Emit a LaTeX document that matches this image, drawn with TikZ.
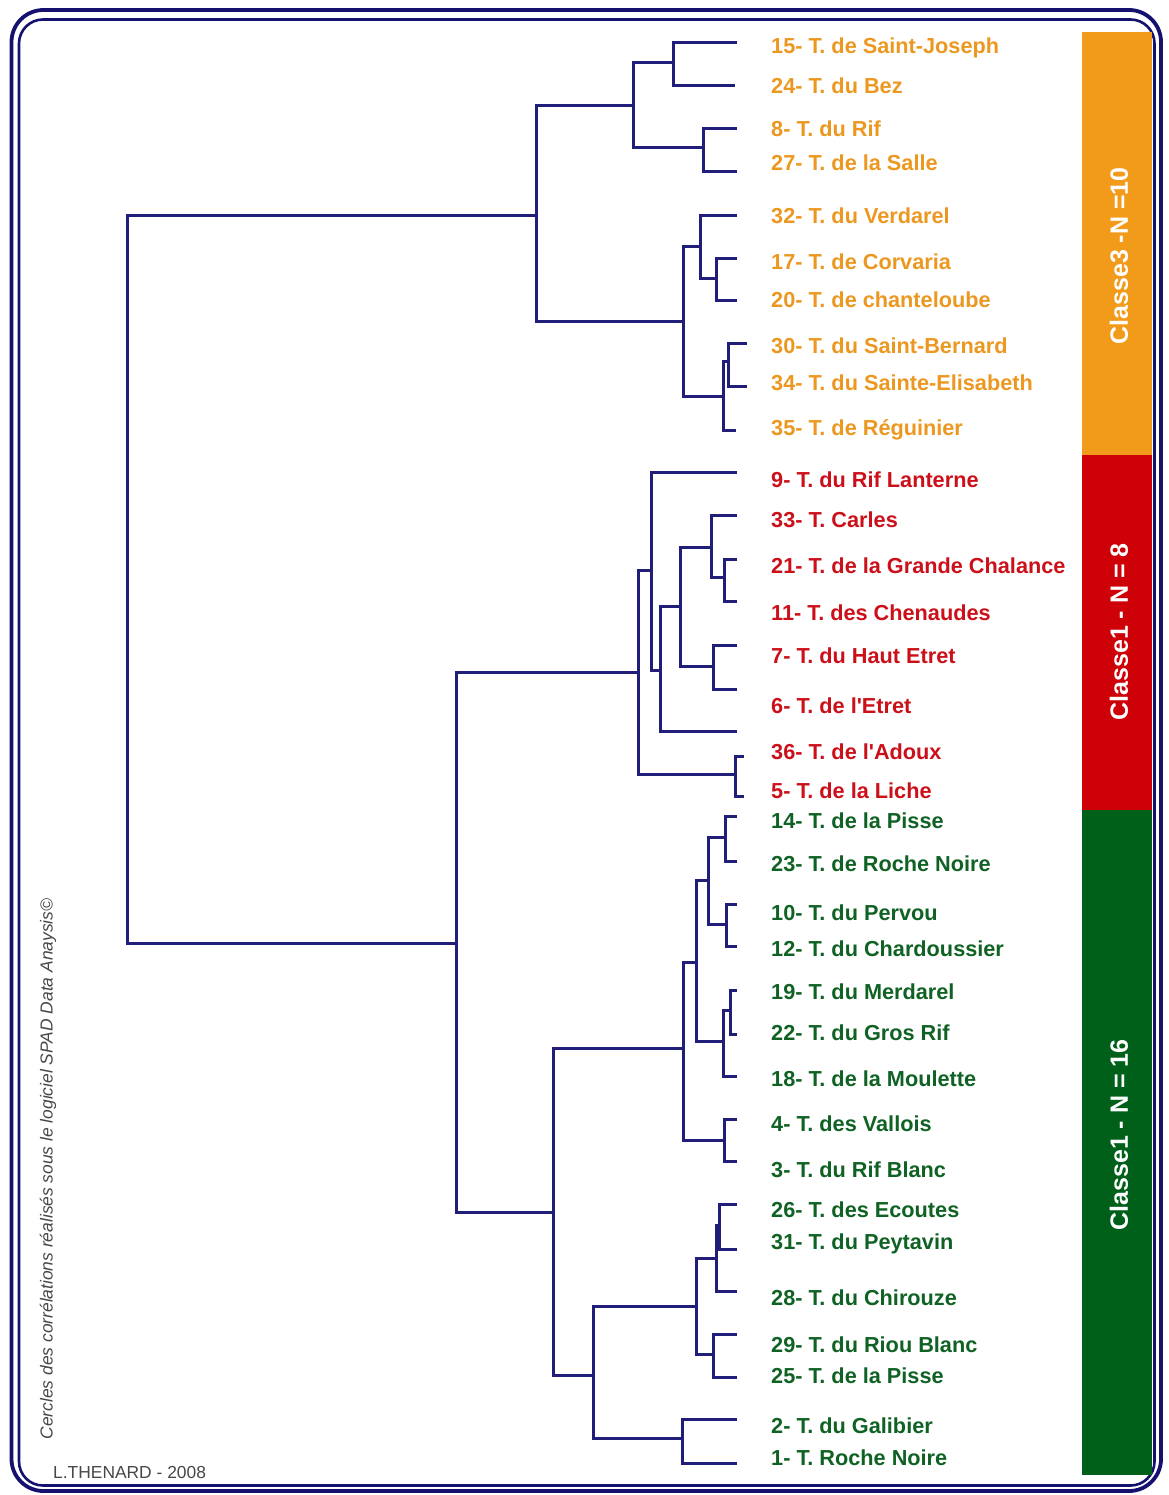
\documentclass[tikz,border=0pt]{standalone}
\usepackage{fontspec}
\setmainfont{Liberation Sans}
\usepackage{xcolor}
\usepackage{tikz}
\definecolor{treeblue}{RGB}{32,30,120}
\definecolor{framenavy}{RGB}{20,18,110}
\definecolor{cl3}{RGB}{236,152,32}
\definecolor{cl3bar}{RGB}{242,155,26}
\definecolor{cl1}{RGB}{204,16,26}
\definecolor{cl1bar}{RGB}{206,0,8}
\definecolor{cl2}{RGB}{16,98,36}
\definecolor{cl2bar}{RGB}{0,96,26}
\newcommand{\spad}{SPAD Data Anaysis\textcopyright}
\newcommand{\apos}{\textquotesingle}
\tikzset{
  branch/.style={draw=treeblue, line width=2.6pt},
  leaflabel/.style={anchor=base west, inner sep=0pt, font=\fontsize{21.7}{26}\selectfont\bfseries},
  classbar/.style={draw=none, minimum width=70pt, inner sep=0pt},
  classtext/.style={text=white, inner sep=0pt, rotate=90, font=\fontsize{25}{30}\selectfont\bfseries},
  credit/.style={inner sep=0pt, text=black!72, font=\fontsize{17.4}{20}\selectfont},
  outerframe/.style={draw=framenavy, line width=3.8pt, rounded corners=32pt},
  innerframe/.style={draw=framenavy, line width=2.6pt, rounded corners=24pt}
}

\begin{document}
\begin{tikzpicture}[x=1pt,y=-1pt]
  \useasboundingbox (0,0) rectangle (1168,1495);
  \draw[outerframe] (11.5,10) rectangle (1161,1491);
  \draw[innerframe] (19,19.5) rectangle (1154.5,1485.5);

  \node[classbar, fill=cl3bar, minimum height=423pt] (bar3) at (1117,243.5) {};
  \node[classbar, fill=cl1bar, minimum height=355pt] (bar1) at (1117,632.5) {};
  \node[classbar, fill=cl2bar, minimum height=665pt] (bar2) at (1117,1142.5) {};
  \node[classtext] (n3) at (1119,256) {Classe3 -N =10};
  \node[classtext] (n1) at (1119,632) {Classe1 - N = 8};
  \node[classtext] (n2) at (1119,1135) {Classe1 - N = 16};

  % junctions
  \coordinate (R) at (127.5,578.5);
  \coordinate (O) at (536.5,215.5);
  \coordinate (O1) at (633.5,105.5);
  \coordinate (O11) at (673.5,62.5);
  \coordinate (O12) at (703.5,147.5);
  \coordinate (O2) at (683.5,321.5);
  \coordinate (O21) at (700.5,246.5);
  \coordinate (O211) at (716.5,278.5);
  \coordinate (O22) at (723.5,396.5);
  \coordinate (O221) at (728.5,361.5);
  \coordinate (G) at (456.5,943.5);
  \coordinate (Rd) at (638.5,672.5);
  \coordinate (Rd1) at (651.5,570.5);
  \coordinate (Rd11) at (660.5,670.5);
  \coordinate (Rd111) at (680.5,606.5);
  \coordinate (Rd1111) at (711.5,547.5);
  \coordinate (Rd11111) at (724.5,577.5);
  \coordinate (Rd1112) at (713.5,666.5);
  \coordinate (Rd2) at (735.5,774.5);
  \coordinate (Gr) at (553.5,1212.5);
  \coordinate (Gr1) at (683.5,1048.5);
  \coordinate (Gr11) at (696.5,962.5);
  \coordinate (Gr111) at (708.5,880.5);
  \coordinate (Gr1111) at (725.5,837.5);
  \coordinate (Gr1112) at (726.5,924.5);
  \coordinate (Gr112) at (723.5,1041.5);
  \coordinate (Gr1121) at (730.5,1010.5);
  \coordinate (Gr12) at (724.5,1140.5);
  \coordinate (Gr2) at (593.5,1375.5);
  \coordinate (Gr21) at (696.5,1306.5);
  \coordinate (Gr211) at (716.5,1258.5);
  \coordinate (Gr2111) at (719.5,1225.5);
  \coordinate (Gr212) at (713.5,1354.5);
  \coordinate (Gr22) at (682.5,1438.5);

  % leaf ends
  \coordinate (l15) at (737,42.5);
  \coordinate (l24) at (735,85.5);
  \coordinate (l8) at (737,128.5);
  \coordinate (l27) at (737,171.5);
  \coordinate (l32) at (737,215.5);
  \coordinate (l17) at (737,258.5);
  \coordinate (l20) at (737,300.5);
  \coordinate (l30) at (747,343.5);
  \coordinate (l34) at (747,386.5);
  \coordinate (l35) at (736,430.5);
  \coordinate (l9) at (737,472.5);
  \coordinate (l33) at (737,515.5);
  \coordinate (l21) at (737,559.5);
  \coordinate (l11) at (737,601.5);
  \coordinate (l7) at (737,645.5);
  \coordinate (l6) at (737,689.5);
  \coordinate (lx) at (737,731.5);
  \coordinate (l36) at (743.5,756.5);
  \coordinate (l5) at (743.5,796.5);
  \coordinate (l14) at (737,816.5);
  \coordinate (l23) at (737,861.5);
  \coordinate (l10) at (737,904.5);
  \coordinate (l12) at (737,946.5);
  \coordinate (l19) at (737,990.5);
  \coordinate (l22) at (737,1034.5);
  \coordinate (l18) at (737,1076.5);
  \coordinate (l4) at (737,1119.5);
  \coordinate (l3) at (737,1161.5);
  \coordinate (l26) at (737,1204.5);
  \coordinate (l31) at (737,1249.5);
  \coordinate (l28) at (737,1291.5);
  \coordinate (l29) at (737,1334.5);
  \coordinate (l25) at (737,1377.5);
  \coordinate (l2) at (737,1419.5);
  \coordinate (l1) at (737,1463.5);

  \draw[branch] (R) |- (O) (R) |- (G);
  \draw[branch] (O) |- (O1) (O) |- (O2);
  \draw[branch] (O1) |- (O11) (O1) |- (O12);
  \draw[branch] (O11) |- (l15) (O11) |- (l24);
  \draw[branch] (O12) |- (l8) (O12) |- (l27);
  \draw[branch] (O2) |- (O21) (O2) |- (O22);
  \draw[branch] (O21) |- (l32) (O21) |- (O211);
  \draw[branch] (O211) |- (l17) (O211) |- (l20);
  \draw[branch] (O22) |- (O221) (O22) |- (l35);
  \draw[branch] (O221) |- (l30) (O221) |- (l34);

  \draw[branch] (G) |- (Rd) (G) |- (Gr);
  \draw[branch] (Rd) |- (Rd1) (Rd) |- (Rd2);
  \draw[branch] (Rd1) |- (l9) (Rd1) |- (Rd11);
  \draw[branch] (Rd11) |- (Rd111) (Rd11) |- (lx);
  \draw[branch] (Rd111) |- (Rd1111) (Rd111) |- (Rd1112);
  \draw[branch] (Rd1111) |- (l33) (Rd1111) |- (Rd11111);
  \draw[branch] (Rd11111) |- (l21) (Rd11111) |- (l11);
  \draw[branch] (Rd1112) |- (l7) (Rd1112) |- (l6);
  \draw[branch] (Rd2) |- (l36) (Rd2) |- (l5);

  \draw[branch] (Gr) |- (Gr1) (Gr) |- (Gr2);
  \draw[branch] (Gr1) |- (Gr11) (Gr1) |- (Gr12);
  \draw[branch] (Gr11) |- (Gr111) (Gr11) |- (Gr112);
  \draw[branch] (Gr111) |- (Gr1111) (Gr111) |- (Gr1112);
  \draw[branch] (Gr1111) |- (l14) (Gr1111) |- (l23);
  \draw[branch] (Gr1112) |- (l10) (Gr1112) |- (l12);
  \draw[branch] (Gr112) |- (Gr1121) (Gr112) |- (l18);
  \draw[branch] (Gr1121) |- (l19) (Gr1121) |- (l22);
  \draw[branch] (Gr12) |- (l4) (Gr12) |- (l3);
  \draw[branch] (Gr2) |- (Gr21) (Gr2) |- (Gr22);
  \draw[branch] (Gr21) |- (Gr211) (Gr21) |- (Gr212);
  \draw[branch] (Gr211) |- (Gr2111) (Gr211) |- (l28);
  \draw[branch] (Gr2111) |- (l26) (Gr2111) |- (l31);
  \draw[branch] (Gr212) |- (l29) (Gr212) |- (l25);
  \draw[branch] (Gr22) |- (l2) (Gr22) |- (l1);

  \node[leaflabel, text=cl3] (t15) at (771,53.5) {15- T. de Saint-Joseph};
  \node[leaflabel, text=cl3] (t24) at (771,94) {24- T. du Bez};
  \node[leaflabel, text=cl3] (t8) at (771,136.5) {8- T. du Rif};
  \node[leaflabel, text=cl3] (t27) at (771,170.5) {27- T. de la Salle};
  \node[leaflabel, text=cl3] (t32) at (771,223.5) {32- T. du Verdarel};
  \node[leaflabel, text=cl3] (t17) at (771,269.5) {17- T. de Corvaria};
  \node[leaflabel, text=cl3] (t20) at (771,307.5) {20- T. de chanteloube};
  \node[leaflabel, text=cl3] (t30) at (771,353.5) {30- T. du Saint-Bernard};
  \node[leaflabel, text=cl3] (t34) at (771,390.5) {34- T. du Sainte-Elisabeth};
  \node[leaflabel, text=cl3] (t35) at (771,435.5) {35- T. de Réguinier};

  \node[leaflabel, text=cl1] (t9) at (771,487.5) {9- T. du Rif Lanterne};
  \node[leaflabel, text=cl1] (t33) at (771,527.5) {33- T. Carles};
  \node[leaflabel, text=cl1] (t21) at (771,573) {21- T. de la Grande Chalance};
  \node[leaflabel, text=cl1] (t11) at (771,620) {11- T. des Chenaudes};
  \node[leaflabel, text=cl1] (t7) at (771,663.5) {7- T. du Haut Etret};
  \node[leaflabel, text=cl1] (t6) at (771,713.5) {6- T. de l\apos Etret};
  \node[leaflabel, text=cl1] (t36) at (771,759.5) {36- T. de l\apos Adoux};
  \node[leaflabel, text=cl1] (t5) at (771,798.5) {5- T. de la Liche};

  \node[leaflabel, text=cl2] (t14) at (771,828.5) {14- T. de la Pisse};
  \node[leaflabel, text=cl2] (t23) at (771,871.5) {23- T. de Roche Noire};
  \node[leaflabel, text=cl2] (t10) at (771,920.5) {10- T. du Pervou};
  \node[leaflabel, text=cl2] (t12) at (771,956.5) {12- T. du Chardoussier};
  \node[leaflabel, text=cl2] (t19) at (771,999.5) {19- T. du Merdarel};
  \node[leaflabel, text=cl2] (t22) at (771,1040.5) {22- T. du Gros Rif};
  \node[leaflabel, text=cl2] (t18) at (771,1086.5) {18- T. de la Moulette};
  \node[leaflabel, text=cl2] (t4) at (771,1131.5) {4- T. des Vallois};
  \node[leaflabel, text=cl2] (t3) at (771,1177.5) {3- T. du Rif Blanc};
  \node[leaflabel, text=cl2] (t26) at (771,1217.5) {26- T. des Ecoutes};
  \node[leaflabel, text=cl2] (t31) at (771,1249.5) {31- T. du Peytavin};
  \node[leaflabel, text=cl2] (t28) at (771,1305.5) {28- T. du Chirouze};
  \node[leaflabel, text=cl2] (t29) at (771,1352.5) {29- T. du Riou Blanc};
  \node[leaflabel, text=cl2] (t25) at (771,1383.5) {25- T. de la Pisse};
  \node[leaflabel, text=cl2] (t2) at (771,1433) {2- T. du Galibier};
  \node[leaflabel, text=cl2] (t1) at (771,1465) {1- T. Roche Noire};

  \node[credit, rotate=90, font=\fontsize{17.4}{20}\selectfont\itshape] (soft) at (48,1169) {Cercles des corrélations réalisés sous le logiciel \spad};
  \node[credit, anchor=base west] (author) at (53,1478) {L.THENARD - 2008};
\end{tikzpicture}
\end{document}
